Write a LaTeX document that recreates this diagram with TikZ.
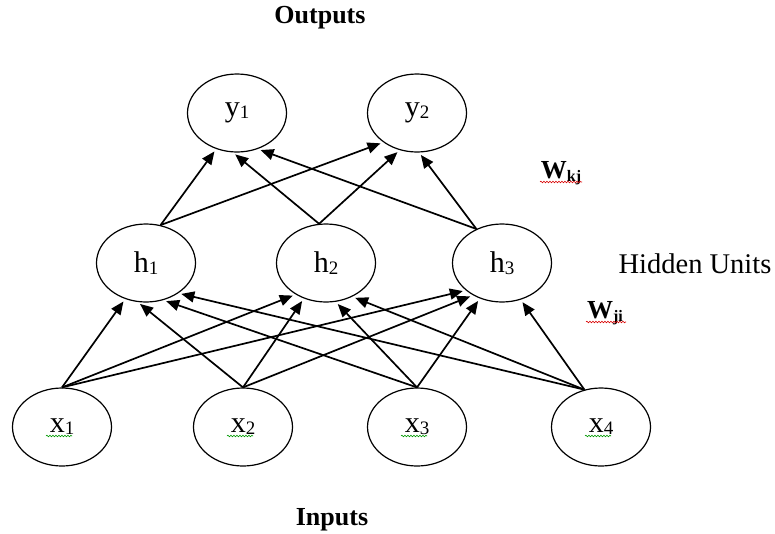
\documentclass[tikz,border=0pt]{standalone}
\usepackage{fontspec}
\setmainfont{Liberation Serif}
\usetikzlibrary{shapes.geometric,arrows.meta,decorations.pathmorphing}

\newcommand\unitlab[2]{#1\raisebox{-2pt}{\fontsize{19}{19}\selectfont #2}}
\newcommand\weightlab[1]{W\raisebox{-3pt}{\fontsize{16}{16}\selectfont #1}}

\begin{document}
\begin{tikzpicture}[x=1pt, y=-1pt,
  unit/.style={ellipse, draw, line width=1.2pt, minimum width=99pt,
    minimum height=78pt, inner sep=0pt, font=\fontsize{30}{34}\selectfont},
  wire/.style={-{Triangle[length=13pt,width=11pt]}, line width=1.7pt, shorten >=3pt},
  title/.style={font=\bfseries\fontsize{26}{30}\selectfont},
  squig/.style={decorate, decoration={snake, segment length=3pt, amplitude=0.8pt},
    line width=0.6pt}]

  \useasboundingbox (0,0) rectangle (775,533);

  %% output units
  \node[unit] (y1) at (237,113) {\unitlab{y}{1}};
  \node[unit] (y2) at (417,113) {\unitlab{y}{2}};

  %% hidden units
  \node[unit] (h1) at (146,263) {\unitlab{h}{1}};
  \node[unit] (h2) at (326,263) {\unitlab{h}{2}};
  \node[unit] (h3) at (502,263) {\unitlab{h}{3}};

  %% input units
  \node[unit] (x1) at (62,427) {\unitlab{x}{1}};
  \node[unit] (x2) at (243,427) {\unitlab{x}{2}};
  \node[unit] (x3) at (417,427) {\unitlab{x}{3}};
  \node[unit] (x4) at (601,427) {\unitlab{x}{4}};

  %% inputs -> hidden (source/anchor/target/anchor)
  \foreach \i/\s/\j/\a in {1/north/1/-120, 1/north/2/-134, 1/north/3/-143,
                           2/north/1/-102, 2/north/2/-122, 2/north/3/-132,
                           3/north/1/-65,  3/north/2/-76,  3/north/3/-122,
                           4/114/1/-43,    4/114/2/-52,    4/114/3/-63}
    \draw[wire] (x\i.\s) -- (h\j.\a);

  %% hidden -> outputs
  \foreach \j/\s/\k/\a in {1/69/1/-120, 2/100/1/-96, 3/127/1/-60,
                           1/69/2/-139, 2/100/2/-115, 3/127/2/-87}
    \draw[wire] (h\j.\s) -- (y\k.\a);

  \node[title] (outputs) at (320,18) {Outputs};
  \node[title] (inputs) at (332,520) {Inputs};
  \node[font=\fontsize{28.5}{32}\selectfont] (hidden) at (695,264) {Hidden Units};
  \node[title] (wkj) at (561,173) {\weightlab{kj}};
  \node[title] (wji) at (605,313) {\weightlab{ji}};

  %% spell-check marks
  \foreach \i in {1,2,3,4}
    \draw[squig, green!60!black] ([xshift=-16pt,yshift=-9pt]x\i.center) -- ++(26,0);
  \draw[squig, red!85!black] ([xshift=-21pt,yshift=-9pt]wkj.center) -- ++(42,0);
  \draw[squig, red!85!black] ([xshift=-19pt,yshift=-9pt]wji.center) -- ++(40,0);

\end{tikzpicture}
\end{document}
